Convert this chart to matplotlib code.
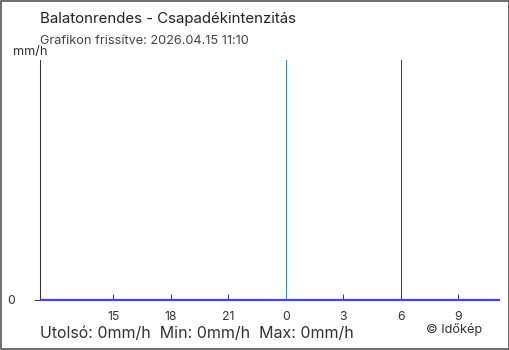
import matplotlib
matplotlib.use("Agg")
import matplotlib.pyplot as plt
import pandas as pd
from matplotlib.patches import Rectangle

plt.rcParams['font.family'] = ['Inter', 'DejaVu Sans']

# data
station = "Balatonrendes"
updated = "2026.04.15 11:10"
times = ["2026-04-14 11:10", "2026-04-14 15:00", "2026-04-14 21:00", "2026-04-15 00:00",
         "2026-04-15 03:00", "2026-04-15 06:00", "2026-04-15 09:00", "2026-04-15 11:10"]
intensity = [0, 0, 0, 0, 0, 0, 0, 0]
tick_times = ["2026-04-14 15:00", "2026-04-14 18:00", "2026-04-14 21:00", "2026-04-15 00:00",
              "2026-04-15 03:00", "2026-04-15 06:00", "2026-04-15 09:00"]
tick_labels = ["15", "18", "21", "0", "3", "6", "9"]
day_start = "2026-04-15 00:00"
morning = "2026-04-15 06:00"
last_val, min_val, max_val = 0, 0, 0

t = pd.to_datetime(times)
ticks = pd.to_datetime(tick_times)

fig = plt.figure(figsize=(5.1, 3.5), dpi=100)
fig.patch.set_facecolor('white')
fig.patches.append(Rectangle((0.001, 0.002), 0.997, 0.996, transform=fig.transFigure,
                             fill=False, edgecolor='#555555', linewidth=1.2))

ax = fig.add_axes([40 / 510, 50 / 350, 460 / 510, 240 / 350])
ax.plot(t, intensity, color='#4242ff', linewidth=1.6, zorder=5, solid_capstyle='butt',
        clip_on=False)
ax.axvline(pd.Timestamp(day_start), color='#3d8fd1', linewidth=0.75)
ax.axvline(pd.Timestamp(morning), color='#444444', linewidth=0.75)

ax.set_xlim(t[0], t[-1])
ax.set_ylim(0, 1)
for s in ['top', 'right', 'bottom']:
    ax.spines[s].set_visible(False)
ax.spines['left'].set_color('#333333')
ax.spines['left'].set_linewidth(0.75)

ax.set_xticks(ticks)
ax.set_xticklabels(tick_labels)
ax.tick_params(axis='x', direction='in', length=4.3, width=0.75, color='#444444',
               labelsize=8.8, labelcolor='#333333', pad=8)
ax.set_yticks([0])
ax.set_yticklabels(["0"])
ax.tick_params(axis='y', direction='out', length=4.3, width=0.75, color='#444444',
               labelsize=8.8, labelcolor='#333333', pad=14)

fig.text(40 / 510, 1 - 19 / 350, station + " - Csapadékintenzitás", fontsize=10.8,
         color='#222222', va='center', ha='left')
fig.text(40 / 510, 1 - 41 / 350, "Grafikon frissítve: " + updated, fontsize=9.2,
         color='#444444', va='center', ha='left')
fig.text(48 / 510, 1 - 52 / 350, "mm/h", fontsize=9.2, color='#333333', va='center', ha='right')
fig.text(40 / 510, 1 - 334 / 350,
         "Utolsó: %dmm/h  Min: %dmm/h  Max: %dmm/h" % (last_val, min_val, max_val),
         fontsize=11.5, color='#333333', va='center', ha='left')
fig.text(482 / 510, 1 - 330 / 350, "© Időkép", fontsize=9.2, color='#333333',
         va='center', ha='right')

fig.savefig("out.png", dpi=100)
